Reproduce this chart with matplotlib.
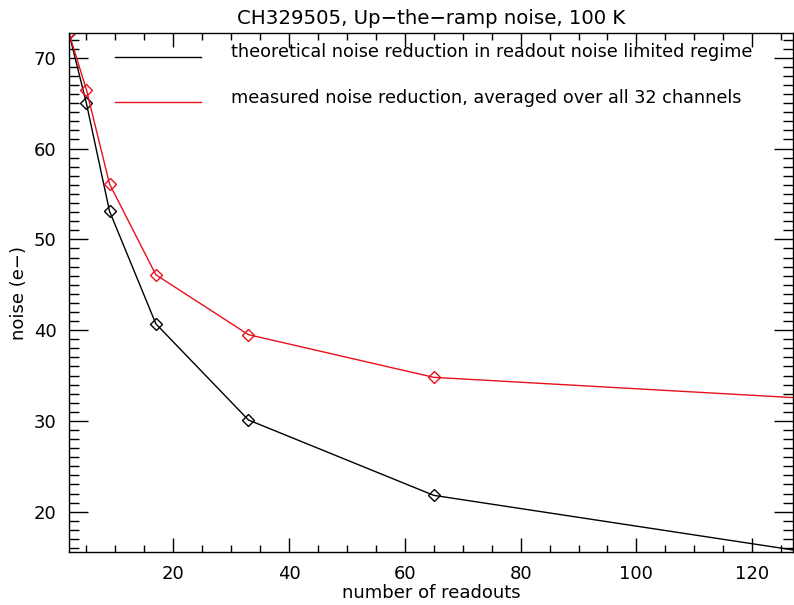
import matplotlib
matplotlib.use("Agg")
import matplotlib.pyplot as plt
from matplotlib.lines import Line2D
from matplotlib.ticker import MultipleLocator

# number of readouts
readouts = [2, 5, 9, 17, 33, 65, 129]
# noise values (e-)
noise_theory = [72.7, 65.0, 53.1, 40.7, 30.1, 21.8, 15.6]
noise_measured = [72.7, 66.5, 56.1, 46.1, 39.5, 34.8, 32.5]

label_theory = "theoretical noise reduction in readout noise limited regime"
label_measured = "measured noise reduction, averaged over all 32 channels"

plt.rcParams["font.family"] = "DejaVu Sans"

W, H = 794, 605
fig = plt.figure(figsize=(W / 100, H / 100), dpi=100)
ax = fig.add_axes([0.0869, 0.0876, 0.9115, 0.8574])

ax.plot(readouts, noise_theory, color="black", lw=1.0, marker="D", ms=6.5,
        mfc="none", mec="black", mew=1.0)
ax.plot(readouts, noise_measured, color="#e8101a", lw=1.0, marker="D", ms=6.5,
        mfc="none", mec="#e8101a", mew=1.0)

ax.set_xlim(2, 127)
ax.set_ylim(15.56, 72.7)

ax.xaxis.set_major_locator(MultipleLocator(20))
ax.xaxis.set_minor_locator(MultipleLocator(5))
ax.yaxis.set_major_locator(MultipleLocator(10))
ax.yaxis.set_minor_locator(MultipleLocator(1))

ax.tick_params(which="both", direction="in", top=True, right=True,
               labelsize=13, width=1.0)
ax.tick_params(axis="x", which="major", length=10, pad=9)
ax.tick_params(axis="x", which="minor", length=5)
ax.tick_params(axis="y", which="major", length=14, pad=9)
ax.tick_params(axis="y", which="minor", length=7)
for sp in ax.spines.values():
    sp.set_linewidth(1.0)

ax.set_xlabel("number of readouts", fontsize=13, labelpad=1)
ax.set_ylabel("noise (e\u2212)", fontsize=13, labelpad=4)
ax.set_title("CH329505, Up\u2212the\u2212ramp noise, 100 K", fontsize=14.2, pad=7)

# legend drawn the IDL way: short line plus text
fig.add_artist(Line2D([115 / W, 201 / W], [1 - 57 / H, 1 - 57 / H],
                      color="black", lw=1.0, transform=fig.transFigure))
fig.add_artist(Line2D([115 / W, 201 / W], [1 - 102 / H, 1 - 102 / H],
                      color="#e8101a", lw=1.0, transform=fig.transFigure))
fig.text(231 / W, 1 - 52 / H, label_theory, fontsize=12.7, va="center")
fig.text(231 / W, 1 - 98 / H, label_measured, fontsize=12.7, va="center")

fig.savefig("out.png", dpi=100)
